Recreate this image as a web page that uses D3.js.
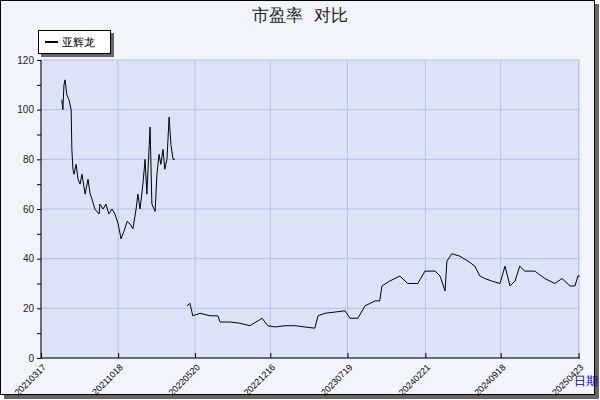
<!DOCTYPE html>
<html><head><meta charset="utf-8">
<script src="https://cdn.jsdelivr.net/npm/d3@7"></script>
<style>body{margin:0;background:#fff}svg{font-family:"DejaVu Sans",sans-serif}</style>
</head><body><svg width="600" height="400"></svg>
<script>
const tickLabels = ["20210317","20211018","20220520","20221216","20230719","20240221","20240918","20250423"];
const seg1 = [["20210514",104],["20210517",100],["20210520",110],["20210523",112],["20210528",106],["20210603",104],["20210609",100],["20210611",84],["20210614",76],["20210617",74],["20210623",78],["20210628",72],["20210704",70],["20210709",74],["20210718",66],["20210726",72],["20210801",66],["20210806",64],["20210814",60],["20210826",58],["20210828",62],["20210906",60],["20210914",62],["20210922",58],["20211001",60],["20211009",58],["20211018",54],["20211026",48],["20211103",51],["20211112",55],["20211120",54],["20211128",52],["20211207",60],["20211212",66],["20211218",60],["20211226",70],["20220101",80],["20220106",66],["20220115",93],["20220120",62],["20220129",59],["20220203",74],["20220209",82],["20220214",78],["20220220",84],["20220225",76],["20220303",80],["20220309",97],["20220314",86],["20220320",80],["20220325",80]];
const seg2 = [["20220428",21],["20220506",22],["20220514",17],["20220603",18],["20220701",17],["20220723",17],["20220729",14.5],["20220826",14.5],["20220922",14],["20221020",13],["20221112",15],["20221123",16],["20221209",13],["20221229",12.5],["20230126",13],["20230223",13],["20230322",12.5],["20230419",12],["20230428",17],["20230517",18],["20230614",18.5],["20230712",19],["20230726",16],["20230817",16],["20230906",21],["20231004",23],["20231017",23],["20231023",29],["20231114",31],["20231212",33],["20240103",30],["20240131",30],["20240220",35],["20240319",35],["20240402",33],["20240416",27],["20240421",39],["20240505",42],["20240527",41],["20240619",39],["20240708",37],["20240722",33],["20240805",32],["20240824",31],["20240916",30],["20240930",37],["20241014",29],["20241028",31],["20241110",37],["20241124",35],["20241222",35],["20250119",32],["20250216",30],["20250308",32],["20250330",29],["20250413",29],["20250421",33],["20250427",33]];
const yTicks = [0,20,40,60,80,100,120];

const p = d3.timeParse("%Y%m%d");
const svg = d3.select("svg");
svg.append("rect").attr("x",4).attr("y",4).attr("width",595).attr("height",395).attr("fill","#666");
svg.append("rect").attr("x",0.5).attr("y",0.5).attr("width",594).attr("height",394).attr("fill","#f2f4fb").attr("stroke","#000");
const L=41,R=580,T=60,B=358;
const x = d3.scaleTime().domain([p("20210317"),p("20250427")]).range([L,R]);
const y = d3.scaleLinear().domain([0,120]).range([B,T]);
svg.append("rect").attr("x",L).attr("y",T).attr("width",R-L).attr("height",B-T).attr("fill","#dce3f7");
const g = svg.append("g");
g.selectAll(".gy").data(yTicks).join("line").attr("x1",L).attr("x2",R).attr("y1",d=>y(d)).attr("y2",d=>y(d)).attr("stroke","#b4c2ea");
g.selectAll(".gx").data(tickLabels).join("line").attr("x1",d=>x(p(d))).attr("x2",d=>x(p(d))).attr("y1",T).attr("y2",B).attr("stroke","#b4c2ea");

const yAxis = d3.axisLeft(y).tickValues(d3.range(0,121,10)).tickSize(4).tickFormat(d=>d%20?"":d);
svg.append("g").attr("transform",`translate(${L},0)`).call(yAxis)
  .call(g=>g.selectAll(".tick text").attr("font-size",10).attr("x",-7).attr("fill","#222"))
  .call(g=>g.select(".domain").attr("d",`M0,${T}V${B}`));
const xAxis = d3.axisBottom(x).tickValues(tickLabels.map(p)).tickSize(-5).tickFormat(d3.timeFormat("%Y%m%d"));
svg.append("g").attr("transform",`translate(0,${B})`).call(xAxis)
  .call(g=>g.select(".domain").attr("d",`M${L},0H${R}`))
  .call(g=>g.selectAll(".tick text").attr("font-size",9).attr("text-anchor","end").attr("dy",0).attr("y",0)
    .attr("transform","translate(5,10) rotate(-45)"));

const line = d3.line().x(d=>x(p(d[0]))).y(d=>y(d[1]));
[seg1,seg2].forEach(s=>svg.append("path").attr("d",line(s)).attr("fill","none").attr("stroke","#000").attr("stroke-width",1));

svg.append("text").attr("x",300).attr("y",21).attr("text-anchor","middle").attr("font-size",17).attr("fill","#222")
  .style("white-space","pre").text("市盈率  对比");
svg.append("rect").attr("x",41).attr("y",33).attr("width",73).attr("height",24).attr("fill","#666");
svg.append("rect").attr("x",38.5).attr("y",30.5).attr("width",72).attr("height",23).attr("fill","#fff").attr("stroke","#000");
svg.append("line").attr("x1",45).attr("x2",58).attr("y1",42).attr("y2",42).attr("stroke","#000").attr("stroke-width",2);
svg.append("text").attr("x",62).attr("y",46).attr("font-size",11).text("亚辉龙");
svg.append("text").attr("x",600-14).attr("y",385).attr("text-anchor","middle").attr("font-size",12).attr("fill","#0000cc").text("日期");
</script></body></html>
